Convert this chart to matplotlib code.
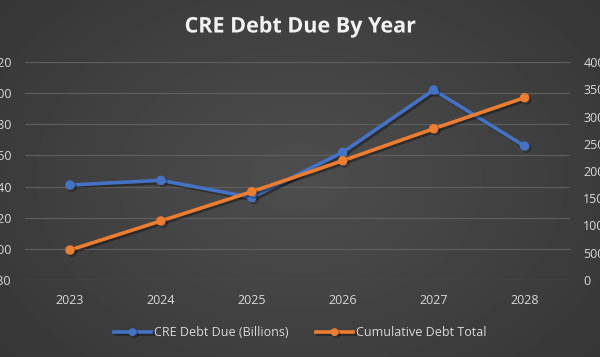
import numpy as np
import matplotlib
matplotlib.use('Agg')
import matplotlib.pyplot as plt
import matplotlib.patheffects as pe

years = ['2023', '2024', '2025', '2026', '2027', '2028']
debt_due = [541, 544, 533, 562, 602, 566]
cumulative = [550, 1083, 1620, 2189, 2776, 3345]
left_ticks = [480, 500, 520, 540, 560, 580, 600, 620]
right_ticks = [0, 500, 1000, 1500, 2000, 2500, 3000, 3500, 4000]

blue = '#4472C4'
orange = '#ED7D31'
label_col = '#d9d9d9'

plt.rcParams['font.family'] = ['Open Sans', 'DejaVu Sans']

fig = plt.figure(figsize=(6, 3.57), dpi=100)

# radial gradient background
bg = fig.add_axes([0, 0, 1, 1])
yy, xx = np.mgrid[0:357, 0:600]
r = np.sqrt(((xx - 300) / 420.0) ** 2 + ((yy - 178) / 300.0) ** 2)
shade = 0.305 - 0.10 * np.clip(r, 0, 1)
bg.imshow(shade, cmap='gray', vmin=0, vmax=1, aspect='auto', extent=[0, 1, 0, 1])
bg.axis('off')

ax = fig.add_axes([24.5 / 600, 77 / 357, 545.5 / 600, 218 / 357])
ax.patch.set_alpha(0)
x = np.arange(len(years))

shadow = [pe.SimpleLineShadow(offset=(1.5, -1.5), alpha=0.35), pe.Normal()]

ax.plot(x, debt_due, color=blue, lw=2.6, marker='o', ms=5.8,
        label='CRE Debt Due (Billions)', path_effects=shadow, zorder=3)
ax.set_ylim(480, 620)
ax.set_yticks(left_ticks)
ax.set_xlim(-0.5, len(years) - 0.5)
ax.set_xticks(x)
ax.set_xticklabels(years)
ax.grid(axis='y', color='#5e5e5e', lw=0.9)
ax.set_axisbelow(True)

ax2 = ax.twinx()
ax2.plot(x, cumulative, color=orange, lw=2.6, marker='o', ms=5.8,
         label='Cumulative Debt Total', path_effects=shadow, zorder=3)
ax2.set_ylim(0, 4000)
ax2.set_yticks(right_ticks)

for a in (ax, ax2):
    for s in a.spines.values():
        s.set_visible(False)
    a.tick_params(length=0, colors=label_col, labelsize=9)
ax.tick_params(axis='y', pad=9.5)
ax2.tick_params(axis='y', pad=9.5)
ax.tick_params(axis='x', pad=10)

fig.text(0.5, 1 - 27 / 357, 'CRE Debt Due By Year', ha='center', va='center',
         fontsize=15.5, fontweight='bold', color='#f2f2f2',
         path_effects=[pe.withSimplePatchShadow(offset=(1, -1), alpha=0.4)])

h1, l1 = ax.get_legend_handles_labels()
h2, l2 = ax2.get_legend_handles_labels()
leg = fig.legend(h1 + h2, l1 + l2, loc='center', bbox_to_anchor=(0.5, 1 - 333 / 357),
                 ncol=2, frameon=False, fontsize=9, handlelength=3.0,
                 handletextpad=0.2, columnspacing=2.2, markerscale=0.8)
for t in leg.get_texts():
    t.set_color(label_col)

fig.savefig('out.png', dpi=100)
